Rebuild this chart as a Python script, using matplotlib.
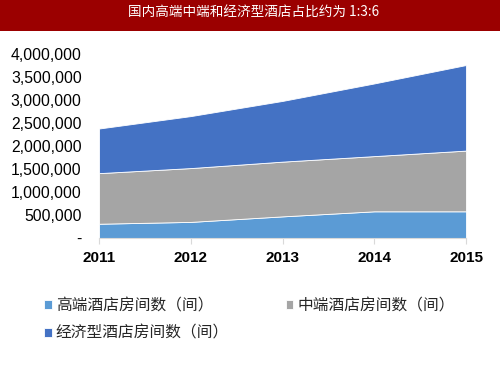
import matplotlib
matplotlib.use("Agg")
import matplotlib.pyplot as plt
from matplotlib.patches import Rectangle
from matplotlib.ticker import FuncFormatter

plt.rcParams['font.family'] = ['Liberation Sans', 'Noto Sans CJK SC', 'DejaVu Sans']

years = [2011, 2012, 2013, 2014, 2015]
high_end = [310000, 350000, 470000, 580000, 580000]
mid_range = [1100000, 1170000, 1190000, 1200000, 1320000]
economy = [970000, 1130000, 1320000, 1580000, 1860000]
labels = ['高端酒店房间数（间）', '中端酒店房间数（间）', '经济型酒店房间数（间）']
colors = ['#5B9BD5', '#A5A5A5', '#4472C4']
title = '国内高端中端和经济型酒店占比约为 1:3:6'

fig = plt.figure(figsize=(5, 3.75), dpi=100)
fig.patches.append(Rectangle((0, 1 - 31/375), 1, 31/375, transform=fig.transFigure,
                             facecolor='#9B0000', edgecolor='none', zorder=0))
fig.text(0.508, 1 - 12/375, title, color='white', ha='center', va='center',
         fontsize=9.8, family=['Noto Sans CJK SC', 'DejaVu Sans'])

ax = fig.add_axes([99/500, 1 - 238/375, (466-99)/500, (238-54)/375])
polys = ax.stackplot(years, high_end, mid_range, economy, colors=colors, labels=labels,
                     edgecolor='white', linewidth=0.6)
ax.set_xlim(2011, 2015)
ax.set_ylim(0, 4000000)
ax.set_yticks(range(0, 4000001, 500000))
ax.yaxis.set_major_formatter(FuncFormatter(lambda v, p: '-' if v == 0 else f'{int(v):,}'))
ax.set_xticks(years)
for s in ['top', 'right', 'left']:
    ax.spines[s].set_visible(False)
ax.spines['bottom'].set_color('#D9D9D9')
ax.tick_params(axis='y', length=0, labelsize=11.3, pad=12.5, colors='black')
ax.tick_params(axis='x', length=4, color='#D9D9D9', labelsize=11, pad=5)
for t in ax.get_xticklabels():
    t.set_fontweight('bold')

order = [0, 2, 1]
leg = fig.legend([polys[i] for i in order], [labels[i] for i in order], loc='upper left',
                 bbox_to_anchor=(30/500, 1 - 283/375),
                 ncol=2, frameon=False, prop={'family': ['Noto Sans CJK SC', 'DejaVu Sans'], 'size': 11.3},
                 handlelength=0.5, handleheight=0.5, handletextpad=0.25, columnspacing=3.6,
                 labelspacing=0.68, labelcolor='#262626')
fig.savefig('out.png', dpi=100)
